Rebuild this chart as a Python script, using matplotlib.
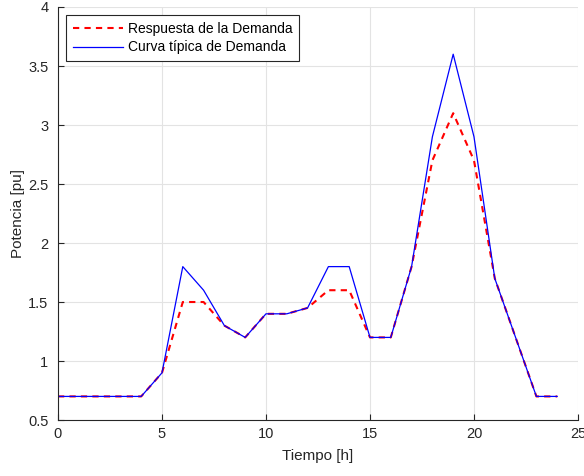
import matplotlib
matplotlib.use('Agg')
import matplotlib.pyplot as plt
import numpy as np

plt.rcParams['font.family'] = ['Liberation Sans', 'DejaVu Sans']

# datos
horas = list(range(0, 25))
curva_tipica = [0.7, 0.7, 0.7, 0.7, 0.7, 0.9, 1.8, 1.6, 1.3, 1.2, 1.4, 1.4, 1.45,
                1.8, 1.8, 1.2, 1.2, 1.8, 2.9, 3.6, 2.9, 1.7, 1.2, 0.7, 0.7]
respuesta = [0.7, 0.7, 0.7, 0.7, 0.7, 0.9, 1.5, 1.5, 1.3, 1.2, 1.4, 1.4, 1.45,
             1.6, 1.6, 1.2, 1.2, 1.8, 2.7, 3.1, 2.7, 1.7, 1.2, 0.7, 0.7]

fig = plt.figure(figsize=(5.84, 4.76), dpi=100)
ax = fig.add_axes([0.0993, 0.1176, 0.8904, 0.8677])

ax.plot(horas, respuesta, 'r--', lw=1.5, dashes=(3, 2.5), label='Respuesta de la Demanda')
ax.plot(horas, curva_tipica, 'b-', lw=0.9, label='Curva típica de Demanda')

ax.set_xlim(0, 25)
ax.set_ylim(0.5, 4)
ax.set_xticks(np.arange(0, 26, 5))
ax.set_yticks(np.arange(0.5, 4.01, 0.5))
ax.set_yticklabels(['0.5', '1', '1.5', '2', '2.5', '3', '3.5', '4'])
ax.grid(True, color='#e3e3e3', lw=0.8)
ax.set_axisbelow(True)

for s in ['top', 'right']:
    ax.spines[s].set_visible(False)
for s in ['left', 'bottom']:
    ax.spines[s].set_color('#262626')
ax.tick_params(direction='in', colors='#262626', labelsize=10.5, length=4)
ax.tick_params(axis='y', pad=7)
ax.tick_params(axis='x', pad=5)

ax.set_xlabel('Tiempo [h]', fontsize=11, color='#262626', labelpad=6)
ax.set_ylabel('Potencia [pu]', fontsize=11, color='#262626', labelpad=2)

leg = ax.legend(loc='upper left', fontsize=10, fancybox=False, edgecolor='#262626',
                framealpha=1, borderaxespad=0.6, handlelength=3.6, borderpad=0.45,
                labelspacing=0.35, handletextpad=0.4)
leg.get_frame().set_linewidth(0.8)

plt.savefig('out.png', dpi=100)
